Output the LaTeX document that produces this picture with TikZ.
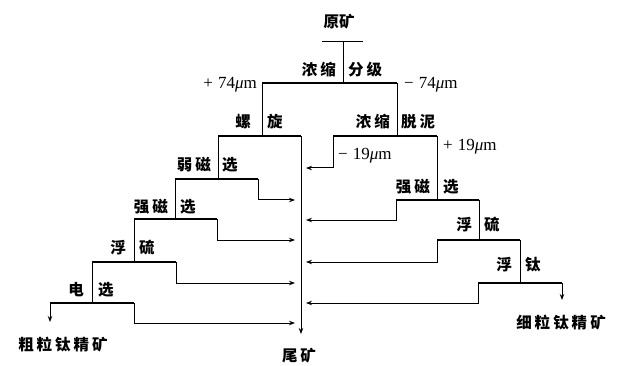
\documentclass[tikz,border=0pt]{standalone}
\usepackage{fontspec}
\setmainfont{Liberation Serif}
\newfontfamily\cjk{Noto Sans CJK SC}
\usetikzlibrary{arrows.meta}
\newcommand\gp{\hspace{3pt}}
\newcommand\mum{{\itshape μ}m}
\newcommand\sg{\hspace{5pt}}
\begin{document}
\begin{tikzpicture}[x=1pt,y=-1pt,
 bar/.style={line width=2.6pt},
 thinln/.style={line width=1pt},
 arr/.style={thinln,-{Stealth[length=6pt,width=4.5pt]}},
 lab/.style={font=\cjk\bfseries\fontsize{15.5}{15.5}\selectfont, inner sep=0pt},
 mic/.style={font=\fontsize{17}{17}\selectfont, inner sep=0pt}]
\useasboundingbox (0,0) rectangle (618,366);
% feed
\node[lab] (feed) at (339,22) {原矿};
\coordinate (f1) at (322,42); \coordinate (f2) at (363,42);
\coordinate (f3) at (343,42); \coordinate (t0) at (343,83);
\draw[thinln] (f1) -- (f2);
\draw[thinln] (f3) -- (t0);
% top classification bar
\coordinate (b0l) at (262,83); \coordinate (b0r) at (397,83);
\draw[bar] (b0l) -- (b0r);
\node[lab,anchor=east] (l0a) at (336,70) {浓\gp 缩};
\node[lab,anchor=west] (l0b) at (348,70) {分\gp 级};
\node[mic,anchor=east] (p74) at (257,85) {+\sg 74\mum};
\node[mic,anchor=west] (m74) at (404,85) {−\sg 74\mum};
% left branch
\coordinate (d1) at (262,136); \coordinate (b1l) at (218,136); \coordinate (b1r) at (301,136);
\coordinate (tail) at (301,334);
\draw[thinln] (b0l) -- (d1);
\draw[bar] (b1l) -- (b1r);
\draw[arr] (b1r) -- (tail);
\node[lab,anchor=east] (l1a) at (251,122) {螺};
\node[lab,anchor=west] (l1b) at (267,122) {旋};
% weak magnetic
\coordinate (d2) at (218,179); \coordinate (b2l) at (175,179); \coordinate (b2r) at (258,179);
\coordinate (b2d) at (258,200); \coordinate (b2e) at (295,200);
\draw[thinln] (b1l) -- (d2);
\draw[bar] (b2l) -- (b2r);
\draw[arr] (b2r) -- (b2d) -- (b2e);
\node[lab,anchor=east] (l2a) at (211,165) {弱\gp 磁};
\node[lab,anchor=west] (l2b) at (222,165) {选};
% strong magnetic
\coordinate (d3) at (175,219); \coordinate (b3l) at (134,219); \coordinate (b3r) at (217,219);
\coordinate (b3d) at (217,240); \coordinate (b3e) at (295,240);
\draw[thinln] (b2l) -- (d3);
\draw[bar] (b3l) -- (b3r);
\draw[arr] (b3r) -- (b3d) -- (b3e);
\node[lab,anchor=east] (l3a) at (168,207) {强\gp 磁};
\node[lab,anchor=west] (l3b) at (180,207) {选};
% sulphide flotation
\coordinate (d4) at (134,262); \coordinate (b4l) at (92,262); \coordinate (b4r) at (176,262);
\coordinate (b4d) at (176,283); \coordinate (b4e) at (295,283);
\draw[thinln] (b3l) -- (d4);
\draw[bar] (b4l) -- (b4r);
\draw[arr] (b4r) -- (b4d) -- (b4e);
\node[lab,anchor=east] (l4a) at (126,248) {浮};
\node[lab,anchor=west] (l4b) at (139,248) {硫};
% electrostatic
\coordinate (d5) at (92,303); \coordinate (b5l) at (50,303); \coordinate (b5r) at (134,303);
\coordinate (b5c) at (50,322);
\coordinate (b5d) at (134,323); \coordinate (b5e) at (295,323);
\draw[thinln] (b4l) -- (d5);
\draw[bar] (b5l) -- (b5r);
\draw[arr] (b5l) -- (b5c);
\draw[arr] (b5r) -- (b5d) -- (b5e);
\node[lab,anchor=east] (l5a) at (84,290) {电};
\node[lab,anchor=west] (l5b) at (98,290) {选};
\node[lab] (coarse) at (63,345) {粗\gp 粒\gp 钛\gp 精\gp 矿};
\node[lab] (tails) at (299,356) {尾\gp 矿};
% right branch
\coordinate (e1) at (397,136); \coordinate (r1l) at (333,136); \coordinate (r1r) at (437,136);
\coordinate (r1d) at (333,168); \coordinate (r1e) at (306,168);
\draw[thinln] (b0r) -- (e1);
\draw[bar] (r1l) -- (r1r);
\draw[arr] (r1l) -- (r1d) -- (r1e);
\node[lab,anchor=east] (r1a) at (390,122) {浓\gp 缩};
\node[lab,anchor=west] (r1b) at (401,122) {脱\gp 泥};
\node[mic,anchor=west] (m19) at (338,156) {−\sg 19\mum};
\node[mic,anchor=west] (p19) at (443,147) {+\sg 19\mum};
% right strong magnetic
\coordinate (e2) at (437,200); \coordinate (r2l) at (396,200); \coordinate (r2r) at (479,200);
\coordinate (r2d) at (396,220); \coordinate (r2e) at (306,220);
\draw[thinln] (r1r) -- (e2);
\draw[bar] (r2l) -- (r2r);
\draw[arr] (r2l) -- (r2d) -- (r2e);
\node[lab,anchor=east] (r2a) at (430,187) {强\gp 磁};
\node[lab,anchor=west] (r2b) at (443,187) {选};
% right sulphide flotation
\coordinate (e3) at (479,240); \coordinate (r3l) at (437,240); \coordinate (r3r) at (520,240);
\coordinate (r3d) at (437,262); \coordinate (r3e) at (306,262);
\draw[thinln] (r2r) -- (e3);
\draw[bar] (r3l) -- (r3r);
\draw[arr] (r3l) -- (r3d) -- (r3e);
\node[lab,anchor=east] (r3a) at (472,225) {浮};
\node[lab,anchor=west] (r3b) at (484,225) {硫};
% titanium flotation
\coordinate (e4) at (520,283); \coordinate (r4l) at (478,283); \coordinate (r4r) at (562,283);
\coordinate (r4d) at (478,303); \coordinate (r4e) at (306,303);
\coordinate (r4c) at (562,300);
\draw[thinln] (r3r) -- (e4);
\draw[bar] (r4l) -- (r4r);
\draw[arr] (r4l) -- (r4d) -- (r4e);
\draw[arr] (r4r) -- (r4c);
\node[lab,anchor=east] (r4a) at (512,265) {浮};
\node[lab,anchor=west] (r4b) at (525,265) {钛};
\node[lab] (fine) at (561,323) {细\gp 粒\gp 钛\gp 精\gp 矿};
\end{tikzpicture}
\end{document}
